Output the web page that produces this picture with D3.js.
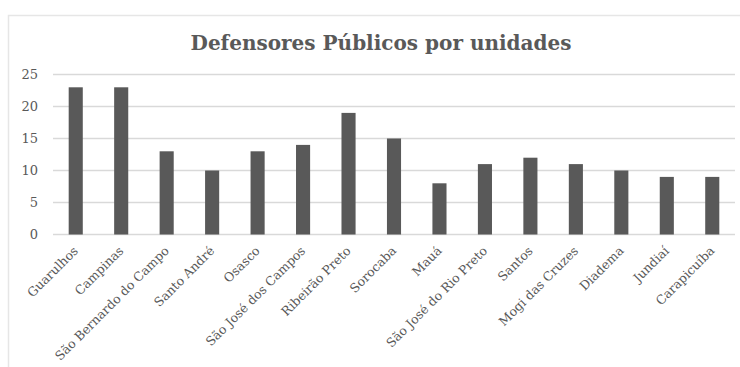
<!DOCTYPE html>
<html lang="pt">
<head>
    <meta charset="utf-8">
    <title>Defensores Públicos por unidades</title>
    <script src="https://d3js.org/d3.v7.min.js"></script>
    <style>
        body { margin: 0; background: #fff; }
        text { font-family: "DejaVu Serif", "Liberation Serif", serif; fill: #595959; }
    </style>
</head>
<body>
  <svg width=740 height=367></svg>
    <script>
        const unidades = ["Guarulhos", "Campinas", "São Bernardo do Campo", "Santo André", "Osasco",
            "São José dos Campos", "Ribeirão Preto", "Sorocaba", "Mauá", "São José do Rio Preto",
            "Santos", "Mogi das Cruzes", "Diadema", "Jundiaí", "Carapicuíba"];
        const defensores = [23, 23, 13, 10, 13, 14, 19, 15, 8, 11, 12, 11, 10, 9, 9];
        const yTicks = [0, 5, 10, 15, 20, 25];

        const svg = d3.select("svg");

        // chart frame (only top and left edges are inside the picture)
        svg.append("path")
           .attr("d", "M8.5,367 V15.5 H740")
           .attr("fill", "none")
           .attr("stroke", "#e6e6e6")
           .attr("stroke-width", 1.5);

        const x = d3.scaleBand()
            .domain(unidades)
            .range([53, 735])
            .paddingInner(0.69)
            .paddingOuter(0.345);

        const y = d3.scaleLinear()
            .domain([0, 25])
            .range([234.5, 74.5]);

        // gridlines
        svg.append("g")
           .selectAll("line")
           .data(yTicks)
           .enter()
           .append("line")
           .attr("x1", 53)
           .attr("x2", 735)
           .attr("y1", d => y(d))
           .attr("y2", d => y(d))
           .attr("stroke", "#d9d9d9")
           .attr("stroke-width", 1.5);

        // y labels
        svg.append("g")
           .selectAll("text")
           .data(yTicks)
           .enter()
           .append("text")
           .attr("x", 38)
           .attr("y", d => y(d))
           .attr("dy", "0.35em")
           .attr("text-anchor", "end")
           .attr("font-size", 13)
           .text(d => d);

        // bars
        svg.append("g")
           .selectAll("rect")
           .data(defensores)
           .enter()
           .append("rect")
           .attr("x", (d, i) => x(unidades[i]))
           .attr("y", d => y(d))
           .attr("width", x.bandwidth())
           .attr("height", d => y(0) - y(d))
           .attr("fill", "#595959");

        // category labels, rotated
        svg.append("g")
           .selectAll("text")
           .data(unidades)
           .enter()
           .append("text")
           .attr("transform", d => `translate(${x(d) + x.bandwidth() / 2},${y(0) + 14}) rotate(-45)`)
           .attr("text-anchor", "end")
           .attr("dy", "0.35em")
           .attr("font-size", 12.5)
           .text(d => d);

        // title
        svg.append("text")
           .attr("x", 381)
           .attr("y", 50)
           .attr("text-anchor", "middle")
           .attr("font-size", 20)
           .attr("font-weight", "bold")
           .text("Defensores Públicos por unidades");
    </script>
</body>
</html>
